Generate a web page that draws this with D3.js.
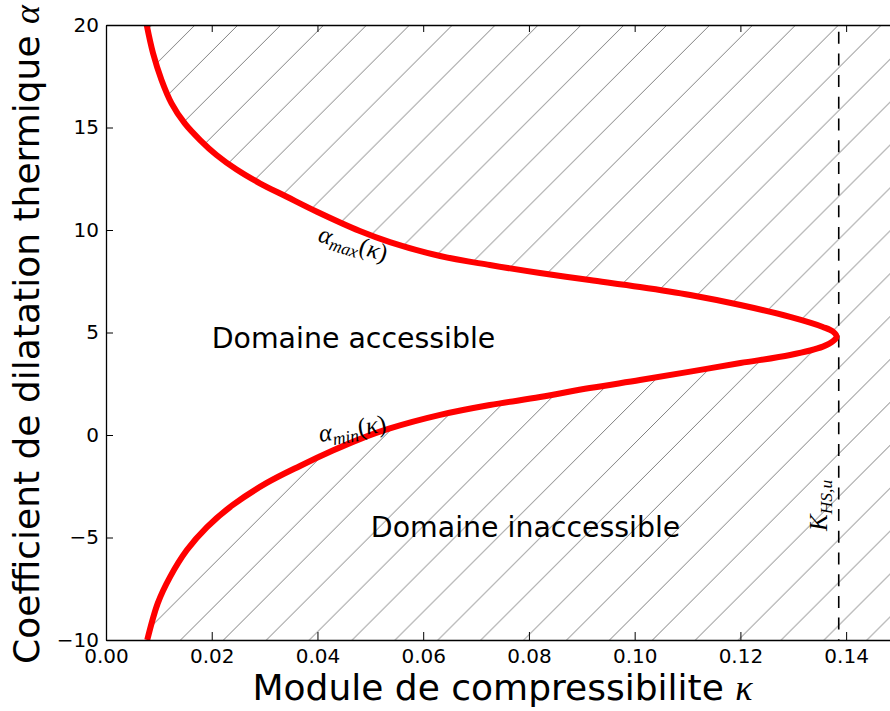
<!DOCTYPE html>
<html>
<head>
<meta charset="utf-8">
<script src="https://cdn.jsdelivr.net/npm/d3@7"></script>
<style>
  body { margin: 0; background: #ffffff; }
  svg { display: block; }
  text { font-family: "DejaVu Sans", sans-serif; fill: #000000; }
  .math { font-family: "Liberation Serif", "DejaVu Serif", serif; font-style: italic; }
  .axis path, .axis line { stroke: #000000; }
</style>
</head>
<body>
<svg id="chart" width="890" height="711"></svg>
<script>

// upper bound alpha_max(kappa) (left -> tip)
var kappaMax = [0.0077, 0.0089, 0.0105, 0.0124, 0.0149, 0.0178, 0.0209, 0.0247, 0.0291, 0.0342,
                0.0399, 0.0480, 0.0537, 0.0632, 0.0726, 0.0821, 0.0915, 0.1010, 0.1105, 0.1200,
                0.1294, 0.1356, 0.1375, 0.1382];
var alphaMax = [20.0, 18.62, 17.32, 16.18, 15.20, 14.39, 13.66, 12.95, 12.28, 11.62,
                10.89, 9.95, 9.41, 8.73, 8.29, 7.90, 7.56, 7.22, 6.83, 6.34,
                5.76, 5.27, 5.05, 4.80];

// lower bound alpha_min(kappa) (tip -> left)
var kappaMin = [0.1375, 0.1356, 0.1294, 0.1200, 0.1105, 0.1010, 0.0915, 0.0821, 0.0726, 0.0632,
                0.0537, 0.0480, 0.0429, 0.0367, 0.0304, 0.0240, 0.0191, 0.0153, 0.0121, 0.0098,
                0.0078];
var alphaMin = [4.57, 4.31, 3.90, 3.51, 3.09, 2.68, 2.29, 1.85, 1.46, 0.98,
                0.32, -0.20, -0.76, -1.51, -2.34, -3.41, -4.49, -5.61, -6.93, -8.20,
                -10.0];

// Hashin-Shtrikman bulk modulus (vertical dashed line)
var kHS = 0.1386;

var xTicks = [0.00, 0.02, 0.04, 0.06, 0.08, 0.10, 0.12, 0.14];
var yTicks = [-10, -5, 0, 5, 10, 15, 20];
var xDomain = [0, 0.15];
var yDomain = [-10, 20];

var xLabel = "Module de compressibilite ";
var yLabel = "Coefficient de dilatation thermique ";
var regionLabels = [
    {text: "Domaine accessible", k: 0.0200, a: 4.25},
    {text: "Domaine inaccessible", k: 0.0501, a: -4.98}
];

/* ====================================================================================
 * Layout
 * ==================================================================================== */

// (window.top is read-only, so plot edges get their own names)
var pLeft = 106, pRight = 899, pTop = 25, pBottom = 640;
var svg = d3.select("#chart");

var x = d3.scaleLinear().domain(xDomain).range([pLeft, pRight]);
var y = d3.scaleLinear().domain(yDomain).range([pBottom, pTop]);

var defs = svg.append("defs");
defs.append("clipPath").attr("id", "plotclip")
    .append("rect").attr("x", pLeft).attr("y", pTop)
    .attr("width", pRight - pLeft).attr("height", pBottom - pTop);

// "/" hatch, 45 degrees
var hs = 42.9;
var hatch = defs.append("pattern").attr("id", "hatch")
    .attr("patternUnits", "userSpaceOnUse")
    .attr("width", hs).attr("height", hs)
    .attr("patternTransform", "translate(5.5,0)");
hatch.append("path")
    .attr("d", "M0," + hs + "L" + hs + ",0 M-2,2L2,-2 M" + (hs - 2) + "," + (hs + 2) + "L" + (hs + 2) + "," + (hs - 2))
    .attr("stroke", "#707070").attr("stroke-width", 0.9).attr("fill", "none");

// full bound curve: upper arm then lower arm
var curvePts = [];
for (var i = 0; i < kappaMax.length; i++) {
    curvePts.push([kappaMax[i], alphaMax[i]]);
}
for (var j = 0; j < kappaMin.length; j++) {
    curvePts.push([kappaMin[j], alphaMin[j]]);
}

var line = d3.line()
    .x(function(d) { return x(d[0]); })
    .y(function(d) { return y(d[1]); })
    .curve(d3.curveCatmullRom.alpha(0.5));

var plot = svg.append("g").attr("clip-path", "url(#plotclip)");

// inaccessible region = everything right of the ">" shaped bound
plot.append("path")
    .attr("d", line(curvePts) + "L" + x(xDomain[1]) + "," + y(yDomain[0]) +
               "L" + x(xDomain[1]) + "," + y(yDomain[1]) + "Z")
    .attr("fill", "url(#hatch)").attr("stroke", "none");

plot.append("line")
    .attr("x1", x(kHS)).attr("x2", x(kHS))
    .attr("y1", y(yDomain[1])).attr("y2", y(yDomain[0]))
    .attr("stroke", "#000000").attr("stroke-width", 1.6)
    .attr("stroke-dasharray", "12,9.7").attr("stroke-dashoffset", -6.7);

plot.append("path")
    .attr("d", line(curvePts))
    .attr("fill", "none").attr("stroke", "#ff0000").attr("stroke-width", 6)
    .attr("stroke-linejoin", "round");

/* ====================================================================================
 * Axes (ticks point inward)
 * ==================================================================================== */

svg.append("g").attr("class", "axis")
    .attr("transform", "translate(0," + pBottom + ")")
    .call(d3.axisBottom(x).tickValues(xTicks).tickFormat(d3.format(".2f"))
          .tickSizeInner(-8).tickSizeOuter(0).tickPadding(9));
svg.append("g").attr("class", "axis")
    .attr("transform", "translate(0," + pTop + ")")
    .call(d3.axisTop(x).tickValues(xTicks).tickFormat("")
          .tickSizeInner(-7).tickSizeOuter(0));
svg.append("g").attr("class", "axis")
    .attr("transform", "translate(" + pLeft + ",0)")
    .call(d3.axisLeft(y).tickValues(yTicks).tickFormat(d3.format("d"))
          .tickSizeInner(-7).tickSizeOuter(0).tickPadding(7));
svg.append("g").attr("class", "axis")
    .attr("transform", "translate(" + pRight + ",0)")
    .call(d3.axisRight(y).tickValues(yTicks).tickFormat("")
          .tickSizeInner(-7).tickSizeOuter(0));

svg.selectAll(".axis path.domain").attr("stroke-width", 1.3);
svg.selectAll(".axis .tick line").attr("stroke-width", 1);
svg.selectAll(".axis text").style("font-family", "'DejaVu Sans', sans-serif")
    .style("font-size", "20px").attr("fill", "#000000");

/* ====================================================================================
 * Labels
 * ==================================================================================== */

var xl = svg.append("text").attr("x", (pLeft + pRight) / 2).attr("y", 700)
    .attr("text-anchor", "middle").style("font-size", "36px");
xl.append("tspan").text(xLabel);
xl.append("tspan").attr("class", "math").text("κ");

var yl = svg.append("text")
    .attr("transform", "translate(39," + ((pTop + pBottom) / 2 + 2) + ")rotate(-90)")
    .attr("text-anchor", "middle").style("font-size", "36px");
yl.append("tspan").text(yLabel);
yl.append("tspan").attr("class", "math").text("α");

svg.selectAll("text.region").data(regionLabels).enter().append("text")
    .attr("class", "region")
    .attr("x", function(d) { return x(d.k); })
    .attr("y", function(d) { return y(d.a); })
    .style("font-size", "28.4px")
    .text(function(d) { return d.text; });

// curve names, written along the curves
var mathLabel = function(px, py, rot, base, sub, size) {
    var t = svg.append("text").attr("class", "math")
        .attr("transform", "translate(" + px + "," + py + ")rotate(" + rot + ")")
        .style("font-size", size + "px");
    t.append("tspan").text(base);
    t.append("tspan").attr("dy", 5).style("font-size", (size * 0.7) + "px").text(sub);
    return t;
};

var tMax = mathLabel(317, 241, 17, "α", "max", 25);
tMax.append("tspan").attr("dy", -5).style("font-style", "normal").text("(");
tMax.append("tspan").text("κ");
tMax.append("tspan").style("font-style", "normal").text(")");

var tMin = mathLabel(320, 442, -9, "α", "min", 25);
tMin.append("tspan").attr("dy", -5).style("font-style", "normal").text("(");
tMin.append("tspan").text("κ");
tMin.append("tspan").style("font-style", "normal").text(")");

mathLabel(827, 531, -90, "K", "HS,u", 25);

</script>
</body>
</html>
